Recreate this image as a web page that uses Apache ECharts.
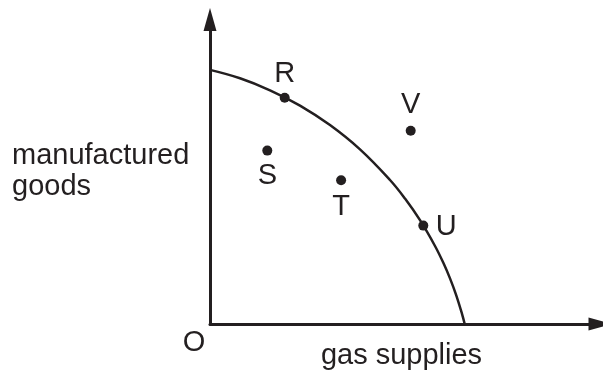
<!DOCTYPE html>
<html>
<head>
<meta charset="utf-8">
<script src="https://cdn.jsdelivr.net/npm/echarts@6/dist/echarts.min.js"></script>
<style>
  html, body { margin: 0; padding: 0; background: #ffffff; }
  #chart { width: 603px; height: 374px; }
</style>
</head>
<body>
<div id="chart"></div>
<script>
// production possibility curve (units: 1 = 3px)
const curveX = [0, 10, 20, 30, 40, 50, 60, 65, 70, 75, 78, 80, 82, 84, 84.9];
const curveY = [84.7, 81.9, 77.9, 72.8, 66.3, 58.2, 48.0, 41.8, 34.6, 26.0, 19.9, 15.2, 9.8, 3.4, 0];

const pointNames = ['R', 'S', 'T', 'U', 'V'];
const pointX = [24.9, 19.1, 43.7, 71.1, 66.9];
const pointY = [75.4, 57.8, 47.9, 32.8, 64.4];

const xAxisName = 'gas supplies';
const yAxisName = ['manufactured', 'goods'];
const originName = 'O';

const ink = '#231f20';
const font = "'Liberation Sans', Arial, Helvetica, sans-serif";
const fontSize = 29;

// where each letter sits relative to its dot (px)
const labelOffsets = {R: [0, -24], S: [0, 25], T: [0, 27], U: [23, 1], V: [0, -26]};

const curveData = curveX.map((x, i) => [x, curveY[i]]);
const pointData = pointNames.map((n, i) => ({
    name: n,
    value: [pointX[i], pointY[i]],
    label: {offset: labelOffsets[n]}
}));

const axisLine = {
    show: true,
    symbol: ['none', 'triangle'],
    symbolSize: [13, 23],
    lineStyle: {color: ink, width: 3}
};

const textStyle = (x, y, text, align) => ({
    x: x, y: y, text: text,
    font: fontSize + 'px ' + font,
    fill: ink,
    align: align,
    verticalAlign: 'middle'
});

const option = {
    animation: false,
    grid: {left: 210, bottom: 50, width: 390, height: 304.5},
    xAxis: {
        type: 'value',
        min: 0,
        max: 130,
        axisLine: axisLine,
        axisTick: {show: false},
        axisLabel: {show: false},
        splitLine: {show: false}
    },
    yAxis: {
        type: 'value',
        min: 0,
        max: 101.5,
        axisLine: axisLine,
        axisTick: {show: false},
        axisLabel: {show: false},
        splitLine: {show: false}
    },
    graphic: [
        {type: 'text', style: textStyle(12, 156, yAxisName[0], 'left')},
        {type: 'text', style: textStyle(12, 187, yAxisName[1], 'left')},
        {type: 'text', style: textStyle(194, 343, originName, 'center')},
        {type: 'text', style: textStyle(401.5, 356, xAxisName, 'center')}
    ],
    series: [
        {
            type: 'line',
            data: curveData,
            smooth: 0.4,
            showSymbol: false,
            lineStyle: {color: ink, width: 2.5},
            z: 2
        },
        {
            type: 'scatter',
            data: pointData,
            symbolSize: 10,
            itemStyle: {color: ink, opacity: 1},
            label: {
                show: true,
                position: 'inside',
                formatter: '{b}',
                color: ink,
                fontSize: fontSize,
                fontFamily: font,
                textBorderWidth: 0
            },
            z: 3
        }
    ]
};

const chart = echarts.init(document.getElementById('chart'));
chart.setOption(option);
</script>
</body>
</html>
